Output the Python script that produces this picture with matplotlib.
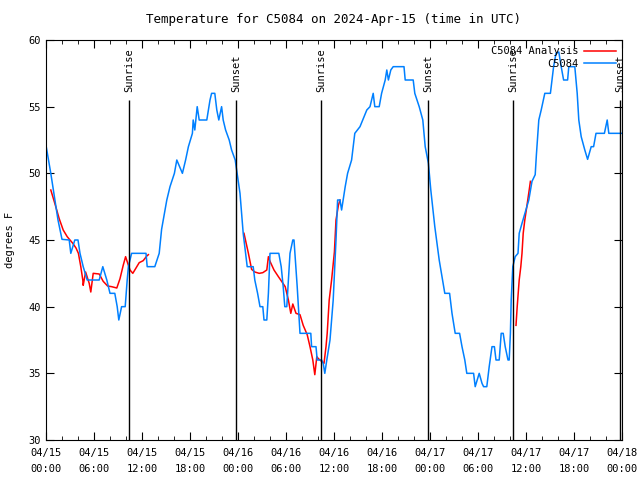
import numpy as np
import matplotlib
matplotlib.use('Agg')
import matplotlib.pyplot as plt

# Часы от 04/15 00:00 UTC и температура
obs_hours = [0.0, 0.6, 1.5, 2.0, 2.9, 3.1, 3.6, 4.0, 4.25, 4.65, 5.15, 6.65, 7.1, 7.6, 8.0, 8.6,
             8.9, 9.1, 9.45, 9.9, 10.15, 10.3, 10.7, 12.5, 12.65, 13.6, 14.15, 14.45, 15.1, 15.5,
             16.05, 16.35, 17.05, 17.45, 17.8, 18.3, 18.4, 18.6, 18.9, 19.15, 20.1, 20.5, 20.7,
             21.1, 21.35, 21.6, 21.95, 22.15, 22.45, 22.9, 23.2, 23.65, 24.25, 24.65, 25.15, 25.9,
             26.1, 26.45, 26.75, 27.1, 27.25, 27.6, 27.8, 28.0, 29.1, 29.4, 29.65, 29.85, 30.1,
             30.3, 30.5, 30.85, 31.0, 31.4, 31.75, 33.1, 33.2, 33.75, 33.9, 34.45, 34.65, 34.85,
             35.1, 35.5, 35.9, 36.25, 36.45, 36.75, 36.95, 37.4, 37.7, 38.2, 38.6, 39.25, 40.1,
             40.5, 40.9, 41.1, 41.65, 41.95, 42.4, 42.6, 42.8, 43.1, 43.4, 44.75, 44.9, 45.9,
             46.1, 46.65, 47.1, 47.4, 47.8, 48.1, 48.6, 49.15, 49.5, 49.85, 50.45, 50.75, 51.15,
             51.7, 52.0, 52.35, 52.6, 53.45, 53.65, 54.15, 54.5, 54.7, 55.1, 55.4, 55.75, 56.05,
             56.25, 56.65, 56.9, 57.15, 57.4, 57.75, 57.9, 58.05, 58.15, 58.35, 58.65, 59.0,
             59.15, 59.5, 60.1, 60.35, 60.75, 61.15, 61.3, 61.6, 61.9, 62.35, 63.05, 63.45, 63.75,
             64.1, 64.4, 64.7, 65.2, 65.35, 66.1, 66.4, 66.6, 66.9, 67.35, 67.7, 68.15, 68.45,
             68.75, 69.8, 70.15, 70.35, 71.9]
obs_temp = [52.1, 50, 46.5, 45.05, 45, 44, 45, 45, 44, 43, 42, 42, 43, 42, 41, 41,
            40, 39, 40, 40, 42, 43, 44, 44, 43, 43, 44, 45.8, 48, 49,
            50, 51, 50, 51, 52, 53, 54, 53.25, 55, 54, 54, 55.5, 56,
            56, 54.75, 54, 55, 54, 53.25, 52.5, 51.75, 51, 48.5, 45.5, 43, 43,
            42, 41, 40, 40, 39, 39, 41, 44, 44, 43, 41.5, 40, 40,
            42, 44, 45, 45, 41.5, 38, 38, 37, 37, 36, 36, 35.75, 35,
            36, 37.5, 40.5, 45, 48, 48, 47.25, 49, 50, 51, 53, 53.5, 54.75,
            55, 56, 55, 55, 56, 57, 57.75, 57, 57.75, 58, 58, 57, 57,
            56, 55, 54, 52, 50.75, 48.75, 46, 43.5, 42.25, 41, 41, 39.5, 38,
            38, 37, 36, 35, 35, 34, 35, 34.25, 34, 34, 35.5, 37, 37,
            36, 36, 38, 38, 37, 36, 36, 38, 40.5, 43, 43.75, 44,
            45.5, 46.25, 47.5, 48, 49.4, 49.9, 51.4, 54, 54.75, 56, 56, 58, 59,
            59.1, 58, 57, 57, 58, 58, 56, 54, 52.75, 51.75, 51.05, 52, 52,
            53, 53, 54, 53, 53]

# Анализ: три куска, разрывы через nan
ana_hours = [0.6, 1.1, 1.65, 2.15, 2.65, 3.0, 3.35, 3.75, 4.05, 4.35, 4.6, 4.65, 4.95, 5.4,
             5.6, 5.9, 6.65, 7.15, 7.7, 8.2, 8.85, 9.25, 9.65, 9.95, 10.3, 10.5, 10.85, 11.25,
             11.65, 12.15, 12.6, 12.8, 18.0,
             24.75, 25.3, 25.7, 26.1, 26.65, 27.1, 27.6, 27.8, 28.0, 28.5, 29.05, 29.45, 29.9,
             30.3, 30.6, 30.85, 31.25, 31.75, 32.15, 32.65, 33.0, 33.35, 33.6, 33.85, 34.05,
             34.45, 34.75, 35.0, 35.15, 35.4, 35.7, 36.05, 36.25, 36.55, 36.75, 48.0,
             58.75, 58.9, 59.15, 59.35, 59.5, 59.65, 59.85, 60.1, 60.4, 60.55]
ana_temp = [48.75, 47.75, 46.6, 45.75, 45.25, 45, 44.75, 44.4, 44, 43, 42, 41.6, 42.6, 41.75,
            41.1, 42.5, 42.45, 41.9, 41.55, 41.5, 41.4, 42.1, 43.1, 43.75, 43.1, 42.75, 42.5, 42.9,
            43.3, 43.45, 43.8, 43.9, np.nan,
            45.5, 44, 42.8, 42.6, 42.5, 42.55, 42.75, 43.75, 43.4, 42.75, 42.25, 41.9, 41.5,
            40.5, 39.5, 40.2, 39.5, 39.4, 38.6, 37.9, 37, 36, 34.9, 36.25, 36.1,
            35.9, 35.75, 37, 38, 40.5, 42, 44.1, 46.5, 47.6, 48, np.nan,
            38.6, 40, 42, 43, 44, 45.5, 46.5, 47.5, 48.75, 49.4]

sun_hours = [10.4, 23.75, 34.4, 47.75, 58.4, 71.75]
sun_names = ['Sunrise', 'Sunset', 'Sunrise', 'Sunset', 'Sunrise', 'Sunset']

tick_hours = [0, 6, 12, 18, 24, 30, 36, 42, 48, 54, 60, 66, 72]
tick_labels = ['04/15\n00:00', '04/15\n06:00', '04/15\n12:00', '04/15\n18:00',
               '04/16\n00:00', '04/16\n06:00', '04/16\n12:00', '04/16\n18:00',
               '04/17\n00:00', '04/17\n06:00', '04/17\n12:00', '04/17\n18:00',
               '04/18\n00:00']

plt.rcParams['font.family'] = ['DejaVu Sans Mono']
plt.rcParams['font.size'] = 7.5

fig = plt.figure(figsize=(6.4, 4.8), dpi=100)
ax = fig.add_axes([46 / 640, 40 / 480, 576 / 640, 400 / 480])

ax.plot(ana_hours, ana_temp, color='#ff0000', lw=1.1, label='C5084 Analysis')
ax.plot(obs_hours, obs_temp, color='#0080ff', lw=1.1, label='C5084')

for h, name in zip(sun_hours, sun_names):
    ax.vlines(h, 30, 55.5, color='black', lw=1)
    ax.text(h, 56.1, name, rotation=90, ha='center', va='bottom')

ax.set_xlim(0, 72)
ax.set_ylim(30, 60)
ax.set_xticks(tick_hours)
ax.set_xticklabels(tick_labels, linespacing=1.75)
ax.set_xticks(np.arange(0, 73, 2), minor=True)
ax.set_yticks(np.arange(30, 61, 5))
ax.tick_params(which='both', direction='in', top=True, right=True)
ax.tick_params(which='major', length=6)
ax.tick_params(which='minor', length=3)
ax.tick_params(axis='x', which='major', pad=6)
ax.set_ylabel('degrees F', labelpad=10)
ax.set_title('Temperature for C5084 on 2024-Apr-15 (time in UTC)', pad=12)

ax.legend(loc='upper right', frameon=False, markerfirst=False, handlelength=3.0,
          borderaxespad=0.2, labelspacing=0.25, handletextpad=0.6)

fig.savefig('out.png', dpi=100)
